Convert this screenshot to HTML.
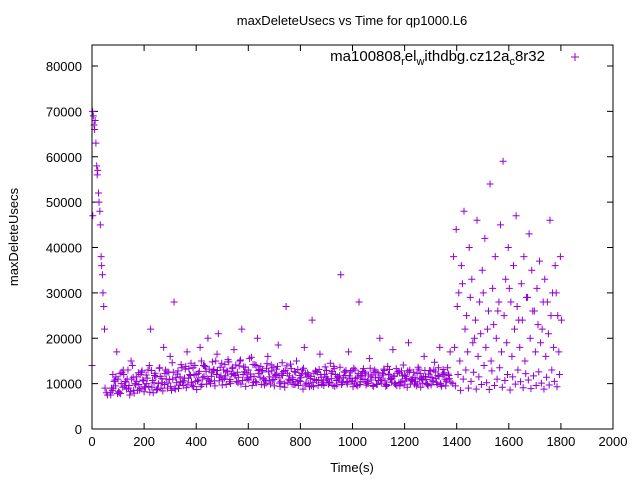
<!DOCTYPE html>
<html><head><meta charset="utf-8"><style>
html,body{margin:0;padding:0;background:#fff}
svg{display:block;font-family:"Liberation Sans",sans-serif}
</style></head><body>
<svg id="chart" width="640" height="480" viewBox="0 0 640 480" xmlns="http://www.w3.org/2000/svg">
<rect width="640" height="480" fill="#fff"/>
<text x="352" y="25" font-size="13" text-anchor="middle">maxDeleteUsecs vs Time for qp1000.L6</text>
<text x="352" y="472" font-size="13" text-anchor="middle">Time(s)</text>
<text transform="translate(18,237) rotate(-90)" font-size="13" text-anchor="middle">maxDeleteUsecs</text>
<g id="axes"></g>
<g id="points"></g>
<g>
<text x="545" y="61" font-size="15" text-anchor="end">ma100808<tspan font-size="11" dy="4">r</tspan><tspan dy="-4">el</tspan><tspan font-size="11" dy="4">w</tspan><tspan dy="-4">ithdbg.cz12a</tspan><tspan font-size="11" dy="4">c</tspan><tspan dy="-4">8r32</tspan></text>
<path d="M571 57h8M575 53v8" stroke="#9400d3" stroke-width="1"/>
</g>
<rect x="92" y="45" width="521" height="384" fill="none" stroke="#000" stroke-width="1"/>
</svg>
<script>
const xTicks=[0,200,400,600,800,1000,1200,1400,1600,1800,2000];
const yTicks=[0,10000,20000,30000,40000,50000,60000,70000,80000];
const earlyTimes=[2,5,8,10,12,15,18,20,22,25,27,30,32,35,37,40,42,45,48,3,0,50,55,60];
const earlyValues=[70000,69000,67000,66000,68000,63000,58000,56000,57000,52000,50000,48000,45000,38000,36000,34000,30000,27000,22000,47000,14000,9000,8000,7500];
const band1Values=[8000,12000,9500,11000,7800,13000,10500,9000,15000,8500,
11500,9800,12500,8200,10000,14000,9200,11800,8700,13500,
10200,12200,9000,16000,11000,8800,12800,10400,9600,13800,
11200,14500,9300,12000,10800,15000,11600,9900,13200,12400,
10600,16500,11400,9700,14200,12600,10900,13600,11800,10200,
15200,12000,9400,13000,11500,10300,14000,12200,9800,11000,
13400,10600,12800,9500,11900,10100,14600,9200,12300,10700,
11300,9900,13100,10500,8800,12100,10000,11600,9300,12700,
10800,11400,9600,12900,10200,11100,13300,9700,11700,10400,
12500,9900,11200,10600,13000,9500,11800,10900,12300,10000,
11500,9400,12600,10700,11000,13200,9800,12100,10300,11700,
9600,12400,10500,11900,9200,13000,10800,11300,9900,12200,
10100,11600,9500,12800,10600,11100,13500,9700,12000,10400,11800];
const band2Values=[9000,10500,17000,8000,12500,9500,11000,7500,14000,10000,
8500,12000,10800,9200,13000,22000,8000,11500,10000,9000,
18000,11000,12500,8500,28000,10200,9700,13500,11200,17000,
12000,9500,14000,10600,18000,11300,13700,20000,10000,12800,
15000,21000,11700,13000,9800,14800,12100,17500,10500,13900,
22000,12600,11000,15500,9600,14200,20000,11400,12900,10700,
16000,9900,13600,11800,18500,10400,12700,27000,11000,13300,
9800,15000,10700,12200,18000,11500,9300,24000,10900,12500,
16500,10200,13700,11000,14500,9600,12000,10800,34000,11300,
12900,17000,10500,13400,9700,28000,11700,12600,10100,15500,
11900,13000,9800,20000,12300,10600,13800,11100,17500,9900,
12700,10300,14100,11600,19000,10900,12500,9500,13200,11200,
16000,10000,12900,11400,14700,9800,18000,12100,11000,13500,17000];
const band3Values=[7500,9000,11500,8200,10000,12000,8800,9600,11000,7900,
10500,8600,12800,9300,11200,8100,10700,12300,9000,11600,
8400,13000,10100,9400,12500,11300,8900,14200,10600,9100,
13300,10300,11900,8700,12700,9800,13900,11100,10400,14800,
9500,12900,13600,10900,11700,15300,10000,12200,14100,11400,
9900,13700,12400,10800,15800,11600,10200,13100,12600,9700,
14400,11500,10600,12100,13800,9400,11800,12900,10300,14300,
10900,12500,9600,11300,13400,10100,11900,9500,12300,10700,
13100,9800,12000,11000,10300,12700,9400,11500,13600,10200,
11800,10500,12600,9300,11100,12200,10400,13300,9700,11900,
10800,12500,9900,11400,10100,12900,9600,13100,11200,10000,
12300,9500,11700,10600,12800,9900,11300,10400,13600,9200,
11500,10900,12100,9700,13000,10300,11600,9400,12400,10800,11100];
const band4Values=[8500,10800,7800,12200,9200,10400,13000,8300,11400,9700,
12400,8900,10600,11900,9400,12900,10200,8600,13400,11100,
9800,12600,10900,14600,9000,12100,11500,10300,13200,9900,
11800,13500,10500,12300,9400,14000,12700,10800,11600,13100,
12000,10600,14500,11200,12800,10400,13300,11900,12500,15000,
10700,13600,11300,12100,14200,10500,12900,13800,11100,10100,
12600,14100,10900,13200,11400,12300,10000,13900,11700,9900,
12700,10400,11800,13000,9700,12400,11100,10300,12800,9600,
12000,10600,11500,9900,12300,13800,10700,11200,9800,12600,
10300,11700,12900,10100,11400,9800,12700,11000,10500,13400,
9600,11300,12400,10700,11900,9400,12000,10900,11600,13300,
10200,12800,9700,11100,12500,10600,9900,12300,11000,10800,
12900,9800,11400,10500,12600,11800,10000,13100,9500,12100,10300];
const lateLowValues=[10000,9500,12000,8500,11000,13000,9000,10500,12500,8800,11500,9800,14000,10200,8700,12800,9600,11000,13500,9200,10700,12000,8600,11500,9900,13000,10400,9100,12200,10800,8900,11700,9600,12600,10100,8800,11400,9700,13000,10500,9300,12000];
const lateHighValues=[38000,44000,30000,36000,48000,25000,40000,33000,20000,46000,28000,35000,42000,22000,54000,31000,38000,26000,45000,59000,33000,40000,28000,36000,47000,24000,32000,38000,29000,43000,35000,26000,31000,37000,22000,33000,28000,46000,30000,36000,25000,38000];
const lateMidValues=[18000,27000,15000,32000,22000,17000,29000,19000,24000,16000,21000,30000,18000,26000,15000,23000,20000,28000,17000,25000,19000,31000,16000,22000,27000,18000,24000,15000,29000,20000,26000,17000,23000,19000,28000,16000,21000,25000,18000,30000,17000,24000];

const PL=92,PR=613,PT=45,PB=429;
function xs(v){return PL+(v/2000)*(PR-PL);}
function ys(v){return PB-(v/80000)*(PB-66);}
const NS="http://www.w3.org/2000/svg";
const axes=document.getElementById('axes');
const pts=document.getElementById('points');
function mk(tag,attrs,parent){const e=document.createElementNS(NS,tag);for(const k in attrs)e.setAttribute(k,attrs[k]);parent.appendChild(e);return e;}
xTicks.forEach(t=>{
  const x=xs(t);
  const g=mk('g',{},axes);
  
  
  mk('path',{d:`M${x} ${PB}v-6M${x} ${PT}v6`,stroke:'#000','stroke-width':1},g);
  const tx=mk('text',{x:x,y:446,'font-size':13,'text-anchor':'middle'},g);
  tx.textContent=t;
});
yTicks.forEach(t=>{
  const y=ys(t);
  const g=mk('g',{},axes);
  
  
  mk('path',{d:`M${PL} ${y}h6M${PR} ${y}h-6`,stroke:'#000','stroke-width':1},g);
  const tx=mk('text',{x:82,y:y+5,'font-size':13,'text-anchor':'end'},g);
  tx.textContent=t;
});
function plot(times,values){
  let d='';
  for(let i=0;i<values.length;i++){const x=xs(times[i]),y=ys(values[i]);d+=`M${x-3.5} ${y}h7M${x} ${y-3.5}v7`;}
  const p=mk('path',{d:d,stroke:'#9400d3','stroke-width':1,fill:'none'},pts);
  
  
}
plot(earlyTimes,earlyValues);
plot(band1Values.map((_,i)=>70+10*i),band1Values);
plot(band2Values.map((_,i)=>75+10*i),band2Values);
plot(band3Values.map((_,i)=>72+10*i),band3Values);
plot(band4Values.map((_,i)=>78+10*i),band4Values);
plot(lateLowValues.map((_,i)=>1385+10*i),lateLowValues);
plot(lateHighValues.map((_,i)=>1388+10*i),lateHighValues);
plot(lateMidValues.map((_,i)=>1392+10*i),lateMidValues);
</script>
</body></html>
